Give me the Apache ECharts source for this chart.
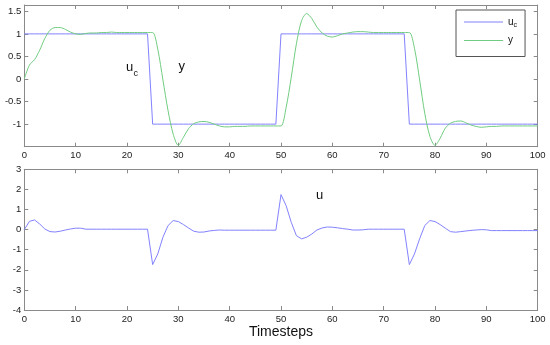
<!DOCTYPE html>
<html>
<head>
<meta charset="utf-8">
<script src="https://cdn.jsdelivr.net/npm/echarts@6/dist/echarts.min.js"></script>
<style>
html,body{margin:0;padding:0;background:#fff;}
#c{width:550px;height:345px;}
</style>
</head>
<body>
<div id="c"></div>
<script>
// ---- data ----
var steps = [0,1,2,3,4,5,6,7,8,9,10,11,12,13,14,15,16,17,18,19,20,21,22,23,24,25,26,27,28,29,30,31,32,33,34,35,36,37,38,39,40,41,42,43,44,45,46,47,48,49,50,51,52,53,54,55,56,57,58,59,60,61,62,63,64,65,66,67,68,69,70,71,72,73,74,75,76,77,78,79,80,81,82,83,84,85,86,87,88,89,90,91,92,93,94,95,96,97,98,99,100];

var ucValues = [
 1,1,1,1,1,1,1,1,1,1, 1,1,1,1,1,1,1,1,1,1, 1,1,1,1,1,
 -1,-1,-1,-1,-1,-1,-1,-1,-1,-1, -1,-1,-1,-1,-1,-1,-1,-1,-1,-1, -1,-1,-1,-1,-1,
 1,1,1,1,1,1,1,1,1,1, 1,1,1,1,1,1,1,1,1,1, 1,1,1,1,1,
 -1,-1,-1,-1,-1,-1,-1,-1,-1,-1, -1,-1,-1,-1,-1,-1,-1,-1,-1,-1, -1,-1,-1,-1,-1,-1
];

var yValues = [
 0,0.31,0.43,0.64,0.9,1.08,1.14,1.14,1.1,1.04,
 1.0,0.99,1.01,1.02,1.02,1.03,1.03,1.04,1.03,1.03,
 1.03,1.03,1.03,1.03,1.03,1.03,0.66,-0.02,-0.7,-1.22,
 -1.47,-1.29,-1.1,-0.99,-0.95,-0.94,-0.96,-1.0,-1.04,-1.06,
 -1.06,-1.05,-1.05,-1.05,-1.04,-1.04,-1.04,-1.04,-1.04,-1.04,
 -1.04,-0.63,0.04,0.78,1.29,1.45,1.34,1.15,1.02,0.95,
 0.93,0.96,1.0,1.02,1.04,1.05,1.05,1.04,1.03,1.03,
 1.03,1.03,1.03,1.03,1.03,1.03,0.68,-0.02,-0.76,-1.27,
 -1.47,-1.31,-1.09,-0.98,-0.94,-0.93,-0.97,-1.02,-1.05,-1.07,
 -1.06,-1.05,-1.05,-1.04,-1.04,-1.04,-1.04,-1.04,-1.04,-1.04,
 -1.04
];

var uValues = [
 0,0.41,0.48,0.28,0.03,-0.1,-0.12,-0.08,-0.02,0.03,
 0.07,0.07,0.02,0.02,0.02,0.02,0.02,0.02,0.02,0.02,
 0.02,0.02,0.02,0.02,0.02,-1.74,-1.21,-0.38,0.2,0.45,
 0.4,0.25,0.08,-0.08,-0.13,-0.12,-0.07,-0.04,-0.02,-0.03,
 -0.03,-0.03,-0.03,-0.03,-0.03,-0.03,-0.03,-0.03,-0.03,-0.03,
 1.74,1.19,0.36,-0.3,-0.46,-0.38,-0.22,-0.02,0.08,0.13,
 0.12,0.09,0.05,0.02,-0.02,-0.02,-0.01,0.02,0.02,0.02,
 0.02,0.02,0.02,0.02,0.02,-1.74,-1.21,-0.46,0.2,0.45,
 0.4,0.25,0.07,-0.1,-0.13,-0.1,-0.07,-0.04,-0.02,0,
 -0.01,-0.05,-0.05,-0.05,-0.05,-0.05,-0.05,-0.05,-0.05,-0.05,
 -0.05
];

var xTicks = [0,10,20,30,40,50,60,70,80,90,100];
var topYTicks = [-1,-0.5,0,0.5,1,1.5];
var botYTicks = [-4,-3,-2,-1,0,1,2,3];

// ---- chart ----
var FONT = 'Liberation Sans, Arial, sans-serif';
var AX = '#8a8a8a';
var BLUE = '#8282ff';
var GREEN = '#70cc80';
var LINE_ICON = 'path://M0,0 L39,0 L39,1 L0,1 Z';

function pairs(v){ return steps.map(function(t,i){ return [t, v[i]]; }); }

function xAx(grid, pos, labels, extra){
  var o = {
    type:'value', gridIndex:grid, position:pos, min:0, max:100, interval:10,
    axisLine:{show:true, onZero:false, lineStyle:{color:AX, width:1}},
    axisTick:{show:true, inside:true, length:4, lineStyle:{color:AX}},
    splitLine:{show:false},
    axisLabel:{show:labels, margin:4, color:'#222', fontFamily:FONT, fontSize:9.5,
      formatter:function(v){ return xTicks.indexOf(v)>=0 ? String(v) : ''; }}
  };
  if (extra) for (var k in extra) o[k]=extra[k];
  return o;
}
function yAx(grid, pos, labels, mn, mx, iv, ticks){
  return {
    type:'value', gridIndex:grid, position:pos, min:mn, max:mx, interval:iv,
    axisLine:{show:true, onZero:false, lineStyle:{color:AX, width:1}},
    axisTick:{show:true, inside:true, length:4, lineStyle:{color:AX}},
    splitLine:{show:false},
    axisLabel:{show:labels, margin:3, color:'#222', fontFamily:FONT, fontSize:9.5,
      formatter:function(v){
        for (var i=0;i<ticks.length;i++){ if (Math.abs(ticks[i]-v)<1e-9) return String(ticks[i]); }
        return '';
      }}
  };
}

var chart = echarts.init(document.getElementById('c'), null, {renderer:'canvas'});
chart.setOption({
  animation:false,
  backgroundColor:'#fff',
  grid:[
    {left:24.3, right:12.3, top:5, height:141.7},
    {left:24.3, right:12.3, top:169.3, height:140.7}
  ],
  xAxis:[
    xAx(0,'bottom',true),
    xAx(0,'top',false),
    xAx(1,'bottom',true,{name:'Timesteps', nameLocation:'middle', nameGap:15,
      nameTextStyle:{fontFamily:FONT, fontSize:14, color:'#111'}}),
    xAx(1,'top',false)
  ],
  yAxis:[
    yAx(0,'left',true,-1.5,1.64,0.5,topYTicks),
    yAx(0,'right',false,-1.5,1.64,0.5,topYTicks),
    yAx(1,'left',true,-4,3,1,botYTicks),
    yAx(1,'right',false,-4,3,1,botYTicks)
  ],
  legend:{
    orient:'vertical', left:456, top:10,
    padding:[7,8,11,8], itemGap:7, itemWidth:39, itemHeight:14,
    backgroundColor:'#fff', borderColor:'#555', borderWidth:1, borderRadius:0,
    data:[{name:'uc', icon:LINE_ICON}, {name:'y', icon:LINE_ICON}],
    formatter:function(n){ return n==='uc' ? '{a|u}{b|c}' : '{a|y}'; },
    textStyle:{fontFamily:FONT, color:'#111',
      rich:{a:{fontSize:10, fontFamily:FONT, color:'#111'},
            b:{fontSize:7, fontFamily:FONT, color:'#111', padding:[6,0,0,0]}}}
  },
  series:[
    {name:'uc', type:'line', xAxisIndex:0, yAxisIndex:0, data:pairs(ucValues),
     symbol:'none', lineStyle:{color:BLUE, width:1}, itemStyle:{color:BLUE}, z:2},
    {name:'y', type:'line', xAxisIndex:0, yAxisIndex:0, data:pairs(yValues),
     symbol:'none', smooth:0.3, lineStyle:{color:GREEN, width:1}, itemStyle:{color:GREEN}, z:3},
    {name:'u', type:'line', xAxisIndex:2, yAxisIndex:2, data:pairs(uValues),
     symbol:'none', lineStyle:{color:BLUE, width:1}, itemStyle:{color:BLUE}}
  ],
  graphic:[
    {type:'text', left:126, top:61, style:{text:'u', font:'13px ' + FONT, fill:'#111'}},
    {type:'text', left:133.5, top:69, style:{text:'c', font:'9px ' + FONT, fill:'#111'}},
    {type:'text', left:178.5, top:60, style:{text:'y', font:'13px ' + FONT, fill:'#111'}},
    {type:'text', left:316, top:189, style:{text:'u', font:'13px ' + FONT, fill:'#111'}}
  ]
});
</script>
</body>
</html>
